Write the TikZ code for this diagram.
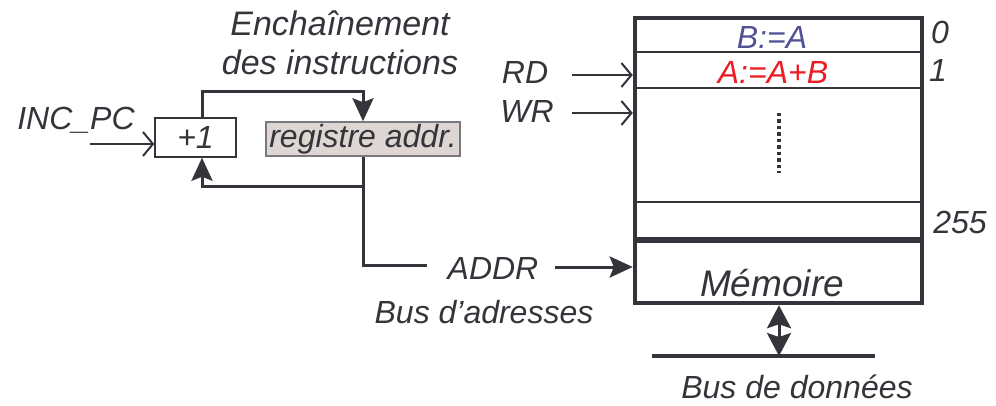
\documentclass[tikz,border=0pt]{standalone}
\usepackage{fontspec}
\setmainfont{Liberation Sans}
\usetikzlibrary{arrows.meta}
\definecolor{ink}{RGB}{52,52,58}
\definecolor{regfill}{RGB}{221,214,210}
\definecolor{regline}{RGB}{120,120,125}
\definecolor{instrblue}{RGB}{82,80,150}
\definecolor{instrred}{RGB}{236,28,36}
\tikzset{
  lbl/.style={font=\fontsize{32}{39}\selectfont\itshape, text=ink, inner sep=0pt},
  biglbl/.style={font=\fontsize{37}{40}\selectfont\itshape, text=ink, inner sep=0pt},
  wire/.style={draw=ink, line width=3pt},
  feed/.style={-{Stealth[length=23pt,width=21pt,inset=4pt]}},
  sig/.style={draw=ink, line width=2pt, -{Straight Barb[length=10pt,width=24pt]}},
  row/.style={draw=ink, line width=2pt},
  incbox/.style={draw=ink, line width=1.5pt, minimum width=81pt, minimum height=39pt, inner sep=0pt,
    font=\fontsize{32}{33}\selectfont\itshape, text=ink},
  regbox/.style={draw=regline, fill=regfill, line width=1.5pt, minimum width=194pt, minimum height=34pt,
    inner sep=0pt, font=\fontsize{32}{33}\selectfont\itshape, text=ink},
}
\begin{document}
\begin{tikzpicture}[x=1pt,y=-1pt]
\useasboundingbox (0,0) rectangle (996,406);
% sequencing of the instructions
\node[lbl, font=\fontsize{34}{39}\selectfont\itshape, align=center] (seq) at (340,43) {Enchaînement\\des instructions};
\node[lbl] (incpc) at (76,120) {INC\_PC};
\node[incbox] (inc) at (195.5,137.5) {+1};
\node[regbox] (reg) at (363,139) {registre addr.};
\coordinate (incin) at (90,144);
\draw[sig] (incin) -- (incin -| inc.west);
\coordinate (looptop) at (363,92);
\coordinate (split) at (363,187);
\coordinate (busend) at (427,265);
\draw[wire,feed] ([xshift=6.5pt]inc.north) |- (looptop) -- (reg.north);
\draw[wire] (reg.south) -- (split);
\draw[wire,feed] (split) -| ([xshift=6.5pt]inc.south);
\draw[wire] (split) |- (busend);
% memory
\node[draw=ink, line width=4.5pt, minimum width=287pt, minimum height=285pt, inner sep=0pt] (mem) at (778.5,160.5) {};
\draw[row] (mem.west |- 0,52) -- (mem.east |- 0,52);
\draw[row] (mem.west |- 0,88) -- (mem.east |- 0,88);
\draw[row] (mem.west |- 0,202) -- (mem.east |- 0,202);
\draw[draw=ink, line width=5.5pt] (mem.west |- 0,240) -- (mem.east |- 0,240);
\draw[draw=ink, line width=4pt, dash pattern=on 3.5pt off 3pt] (779,113) -- (779,173);
\node[lbl, text=instrblue] (cell0) at (772,37) {B:=A};
\node[lbl, text=instrred] (cell1) at (773,72) {A:=A+B};
\node[lbl] (adr0) at (940,32) {0};
\node[lbl] (adr1) at (938,70) {1};
\node[lbl] (adr255) at (960,222) {255};
\node[biglbl] (memname) at (772,283) {Mémoire};
% control and address inputs
\node[lbl] (rd) at (525,72) {RD};
\node[lbl] (wr) at (527,111) {WR};
\coordinate (rdin) at (572,75);
\coordinate (wrin) at (572,113);
\draw[sig] (rdin) -- (rdin -| mem.west);
\draw[sig] (wrin) -- (wrin -| mem.west);
\node[lbl] (addr) at (493,268) {ADDR};
\node[lbl] (adrbus) at (484,312) {Bus d’adresses};
\coordinate (addrin) at (555,267);
\draw[wire,feed] (addrin) -- (addrin -| mem.west);
% data bus
\coordinate (dbl) at (652,356);
\coordinate (dbr) at (875,356);
\draw[draw=ink, line width=4.5pt] (dbl) -- (dbr);
\draw[wire,{Stealth[length=23pt,width=24pt,inset=4pt]}-{Stealth[length=23pt,width=24pt,inset=4pt]}]
  (mem.south -| 779,0) -- (dbl -| 779,0);
\node[lbl] (databus) at (797,387) {Bus de données};
\end{tikzpicture}
\end{document}
